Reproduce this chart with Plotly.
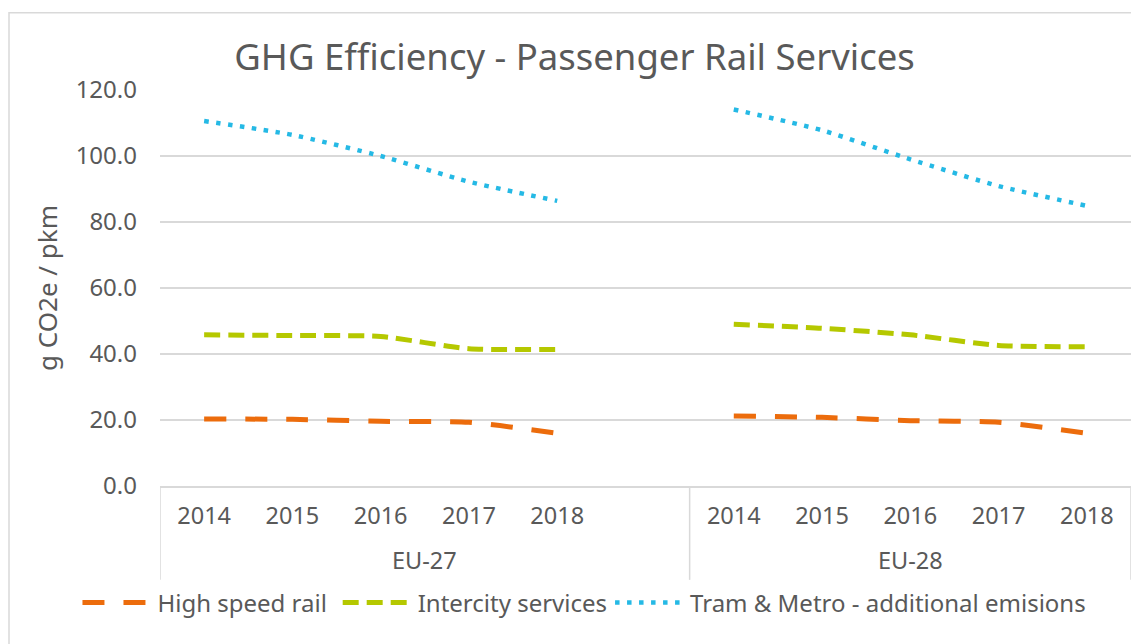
import plotly.graph_objects as go

# values (g CO2e / pkm)
groups = ["EU-27", "EU-28"]
years = ["2014", "2015", "2016", "2017", "2018"]

high_speed_eu27 = [20.3, 20.2, 19.6, 19.3, 16.0]
high_speed_eu28 = [21.2, 20.8, 19.8, 19.3, 16.0]
intercity_eu27 = [45.8, 45.6, 45.3, 41.6, 41.4]
intercity_eu28 = [49.0, 47.8, 45.8, 42.6, 42.2]
tram_eu27 = [110.6, 106.4, 100.0, 92.2, 86.4]
tram_eu28 = [114.1, 107.8, 99.0, 90.9, 84.9]

y_ticks = [0, 20, 40, 60, 80, 100, 120]

TEXT = "#595959"
GRID = "#d9d9d9"
FONT = "Noto Sans"

# category slots: EU-27 block has an empty sixth slot, as in the source sheet
n = len(years)
slots_eu27 = list(range(n + 1))          # 0..5 (5 is the empty one)
slots_eu28 = [n + 1 + i for i in range(n)]
x_pos = slots_eu27 + slots_eu28
x_text = years + [""] + years


def joined(a, b):
    return list(a) + [None] + list(b)


series = [
    ("High speed rail", high_speed_eu27, high_speed_eu28, "#ec6c0c", 5, "22px,19px", "legend"),
    ("Intercity services", intercity_eu27, intercity_eu28, "#b5c800", 5, "16px,8px", "legend2"),
    ("Tram & Metro - additional emisions", tram_eu27, tram_eu28, "#25b9e5", 4.5,
     "4.5px,7.5px", "legend3"),
]

fig = go.Figure()
for name, a, b, color, width, dash, legend in series:
    fig.add_trace(
        go.Scatter(
            x=x_pos,
            y=joined(a, b),
            mode="lines",
            name=name,
            legend=legend,
            line={"color": color, "width": width, "dash": dash,
                  "shape": "spline", "smoothing": 0.6},
            connectgaps=False,
            hovertemplate="%{y:.1f}<extra></extra>",
        )
    )

legend_style = {
    "orientation": "h",
    "xanchor": "left",
    "y": -0.295,
    "yanchor": "middle",
    "font": {"size": 24, "color": TEXT},
    "itemwidth": 70,
    "bgcolor": "rgba(0,0,0,0)",
}

# group edges: left of first slot, between groups, right of last slot
edges = [x_pos[0] - 0.5, slots_eu27[-1] + 0.5, x_pos[-1] + 0.5]
dividers = [
    {
        "type": "line",
        "xref": "x",
        "yref": "paper",
        "x0": e,
        "x1": e,
        "y0": 0,
        "y1": -0.237,
        "line": {"color": GRID, "width": 1.5},
    }
    for e in edges
]
group_labels = [
    {
        "text": g,
        "xref": "x",
        "yref": "paper",
        "x": (lo + hi) / 2,
        "y": -0.187,
        "yanchor": "middle",
        "showarrow": False,
        "font": {"size": 23.5, "color": TEXT},
    }
    for g, lo, hi in zip(groups, edges[:-1], edges[1:])
]

fig.update_layout(
    width=1131,
    height=644,
    margin={"l": 160, "r": 0, "t": 90, "b": 158},
    paper_bgcolor="white",
    plot_bgcolor="white",
    font={"family": FONT, "color": TEXT, "size": 24},
    title={
        "text": "GHG Efficiency - Passenger Rail Services",
        "x": 0.508,
        "xanchor": "center",
        "y": 0.911,
        "yanchor": "middle",
        "font": {"size": 36.5, "color": TEXT},
    },
    legend={**legend_style, "x": -0.085},
    legend2={**legend_style, "x": 0.183},
    legend3={**legend_style, "x": 0.4635},
    showlegend=True,
    annotations=group_labels,
    shapes=[
        {
            "type": "rect",
            "xref": "paper",
            "yref": "paper",
            "x0": -0.1555,
            "x1": 1.05,
            "y0": -0.5,
            "y1": 1.195,
            "line": {"color": GRID, "width": 1.5},
            "layer": "below",
        }
    ] + dividers,
)

fig.update_xaxes(
    range=[edges[0], edges[-1]],
    automargin=False,
    tickvals=x_pos,
    ticktext=x_text,
    showline=True,
    linecolor=GRID,
    linewidth=1.5,
    showgrid=False,
    zeroline=False,
    tickfont={"size": 23.5, "color": TEXT},
    ticks="",
    ticklabelstandoff=8,
)

fig.update_yaxes(
    range=[0, 120],
    automargin=False,
    tickvals=y_ticks,
    tickformat=".1f",
    showgrid=True,
    gridcolor=GRID,
    gridwidth=1.5,
    zeroline=False,
    showline=False,
    ticks="",
    ticklabelstandoff=22,
    tickfont={"size": 24, "color": TEXT},
    title={"text": "g CO2e / pkm", "font": {"size": 26, "color": TEXT}, "standoff": 10},
)

fig.write_html(
    "out.html",
    config={"displayModeBar": False},
    post_script="document.body.style.margin='0';",
)
